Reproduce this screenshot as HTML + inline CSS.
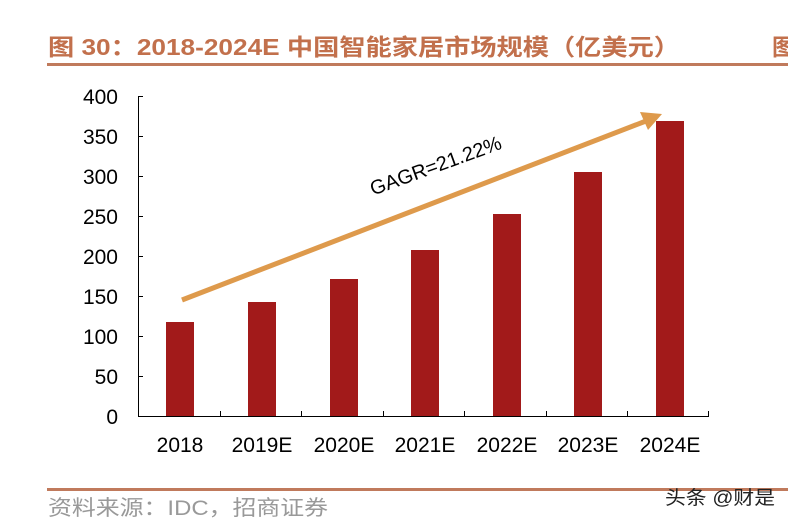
<!DOCTYPE html>
<html><head><meta charset="utf-8"><style>
body{margin:0;background:#fff;width:788px;height:522px;overflow:hidden}
</style></head><body>
<svg width="788" height="522" xmlns="http://www.w3.org/2000/svg" font-family="'Liberation Sans','Noto Sans CJK SC',sans-serif">
<text x="48" y="55" font-size="23" font-weight="bold" fill="#c2704c" textLength="632" lengthAdjust="spacingAndGlyphs">图 30：2018-2024E 中国智能家居市场规模（亿美元）</text>
<text x="772" y="55" font-size="23" font-weight="bold" fill="#c2704c">图</text>
<rect x="47" y="63" width="741" height="3" fill="#c07a5c"/>
<g font-size="21" fill="#000" text-anchor="end">
<text x="118" y="104">400</text><text x="118" y="144">350</text><text x="118" y="184">300</text>
<text x="118" y="224">250</text><text x="118" y="264">200</text><text x="118" y="304">150</text>
<text x="118" y="344">100</text><text x="118" y="384">50</text><text x="118" y="424">0</text>
</g>
<g stroke="#000" stroke-width="1">
<line x1="138.5" y1="96" x2="138.5" y2="416"/>
<line x1="138" y1="416.5" x2="709" y2="416.5"/>
<line x1="138" y1="96.5" x2="143" y2="96.5"/><line x1="138" y1="136.5" x2="143" y2="136.5"/>
<line x1="138" y1="176.5" x2="143" y2="176.5"/><line x1="138" y1="216.5" x2="143" y2="216.5"/>
<line x1="138" y1="256.5" x2="143" y2="256.5"/><line x1="138" y1="296.5" x2="143" y2="296.5"/>
<line x1="138" y1="336.5" x2="143" y2="336.5"/><line x1="138" y1="376.5" x2="143" y2="376.5"/>
<line x1="220.5" y1="411" x2="220.5" y2="416"/><line x1="301.5" y1="411" x2="301.5" y2="416"/>
<line x1="383.5" y1="411" x2="383.5" y2="416"/><line x1="464.5" y1="411" x2="464.5" y2="416"/>
<line x1="546.5" y1="411" x2="546.5" y2="416"/><line x1="627.5" y1="411" x2="627.5" y2="416"/>
<line x1="708.5" y1="411" x2="708.5" y2="416"/>
</g>
<g fill="#a21a1a">
<rect x="166" y="322" width="28" height="94"/>
<rect x="248" y="302" width="28" height="114"/>
<rect x="330" y="279" width="28" height="137"/>
<rect x="411" y="250" width="28" height="166"/>
<rect x="493" y="214" width="28" height="202"/>
<rect x="574" y="172" width="28" height="244"/>
<rect x="656" y="121" width="28" height="295"/>
</g>
<g font-size="21" fill="#000" text-anchor="middle">
<text x="180" y="452">2018</text><text x="262" y="452">2019E</text><text x="344" y="452">2020E</text>
<text x="425" y="452">2021E</text><text x="507" y="452">2022E</text><text x="588" y="452">2023E</text>
<text x="670" y="452">2024E</text>
</g>
<line x1="182" y1="300" x2="646" y2="121" stroke="#de9a4c" stroke-width="5"/>
<polygon points="662,114 640,112 648,130" fill="#de9a4c"/>
<text x="438" y="172" font-size="20" fill="#000" text-anchor="middle" transform="rotate(-20 438 172)">GAGR=21.22%</text>
<rect x="47" y="488" width="741" height="3" fill="#c07a5c"/>
<text x="48" y="515" font-size="21" fill="#999" textLength="280" lengthAdjust="spacingAndGlyphs">资料来源：IDC，招商证券</text>
<text x="665" y="504" font-size="19" fill="#222" textLength="110" lengthAdjust="spacingAndGlyphs">头条 @财是</text>
</svg>
</body></html>
